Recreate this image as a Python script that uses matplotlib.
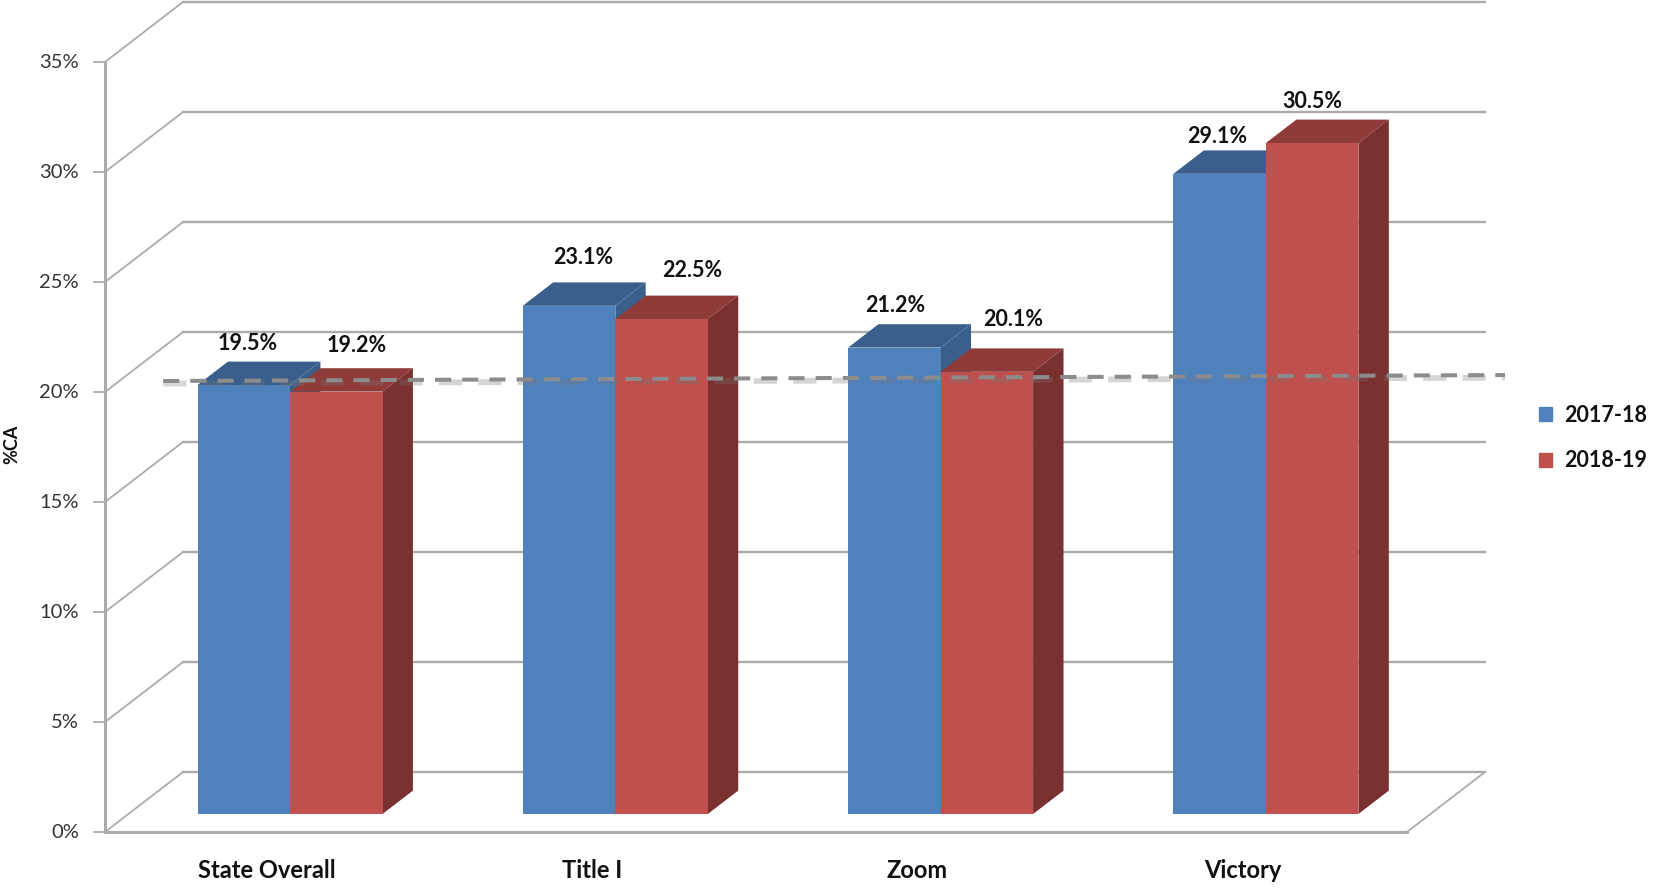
import matplotlib
matplotlib.use("Agg")
from matplotlib import pyplot as plt
import numpy as np

categories = ["State Overall", "Title I", "Zoom", "Victory"]
years = ["2017-18", "2018-19"]
values_2017 = [19.5, 23.1, 21.2, 29.1]
values_2018 = [19.2, 22.5, 20.1, 30.5]
y_ticks = [0, 5, 10, 15, 20, 25, 30, 35]

# hand drawn dashed line in the original, ends
dash_x = [-0.318, 3.807]
dash_y = [20.5, 20.77]

# value labels were moved by hand in the original: (dx, dy) from front top centre
nudge_2017 = [(0.012, 1.9), (0.043, 2.2), (0.003, 1.9), (-0.009, 1.7)]
nudge_2018 = [(0.063, 2.1), (0.095, 2.2), (0.08, 2.4), (0.0, 1.9)]

W, H = 1671, 894
PX_CAT = 325.3   # px per category
PX_PCT = 22.0    # px per percent
X0, Y0 = 266.6, 832.0

# depth of the 3d box in data units
DX = 78 / PX_CAT
DY = 60 / PX_PCT
BAR_D0 = 0.3     # front of the bars, as a fraction of the depth
BAR_D1 = 0.69    # back of the bars
BAR_W = 92.5 / PX_CAT
X_LEFT = (105 - X0) / PX_CAT
X_RIGHT = (1407 - X0) / PX_CAT

BLUE = ["#4F81BD", "#3A5F8C", "#3A5F8C"]
RED = ["#C0504D", "#8F3B39", "#7A302E"]
GRID = "#ABABAB"

plt.rcParams["font.family"] = ["Lato", "DejaVu Sans"]

fig = plt.figure(figsize=(W / 100, H / 100), dpi=100)
ax = fig.add_axes([0, 0, 1, 1])
ax.set_xlim(-X0 / PX_CAT, (W - X0) / PX_CAT)
ax.set_ylim((Y0 - H) / PX_PCT, Y0 / PX_PCT)
ax.axis("off")

# walls
for t in y_ticks:
    ax.plot([X_LEFT, X_LEFT + DX], [t, t + DY], color=GRID, lw=1.3, zorder=1)
    ax.plot([X_LEFT + DX, X_RIGHT + DX], [t + DY, t + DY], color=GRID, lw=1.7, zorder=1)
    ax.plot([X_LEFT - 11 / PX_CAT, X_LEFT], [t, t], color=GRID, lw=1.3, zorder=1)
    ax.text(X_LEFT - 26 / PX_CAT, t, f"{t}%", ha="right", va="center",
            fontsize=14.5, color="#333333")

ax.plot([X_LEFT, X_LEFT], [0, y_ticks[-1]], color=GRID, lw=2.2, zorder=1)
ax.plot([X_LEFT, X_RIGHT], [0, 0], color=GRID, lw=2.2, zorder=1)
ax.plot([X_RIGHT, X_RIGHT + DX], [0, DY], color=GRID, lw=1.3, zorder=1)


def draw_bar(x_left, value, colors, z):
    sx0, sy0 = BAR_D0 * DX, BAR_D0 * DY
    sx1, sy1 = BAR_D1 * DX, BAR_D1 * DY
    left, right = x_left + sx0, x_left + sx0 + BAR_W
    top = value + sy0
    ax.bar(left, value, BAR_W, bottom=sy0, align="edge", color=colors[0], zorder=z + 0.2)
    ax.fill([left, right, x_left + sx1 + BAR_W, x_left + sx1],
            [top, top, value + sy1, value + sy1], color=colors[1], lw=0, zorder=z)
    ax.fill([right, x_left + sx1 + BAR_W, x_left + sx1 + BAR_W, right],
            [sy0, sy1, value + sy1, top], color=colors[2], lw=0, zorder=z + 0.1)


for i in range(len(categories)):
    draw_bar(i - BAR_W, values_2017[i], BLUE, 2)
    draw_bar(i, values_2018[i], RED, 3)

    for v, off, (nx, ny) in [(values_2017[i], -BAR_W / 2, nudge_2017[i]),
                             (values_2018[i], BAR_W / 2, nudge_2018[i])]:
        ax.text(i + off + BAR_D0 * DX + nx, v + BAR_D0 * DY + ny, f"{v:.1f}%",
                ha="center", va="center", fontsize=15.5, fontweight="bold",
                color="#111111", zorder=6)

    ax.text(i, -38 / PX_PCT, categories[i], ha="center", va="center",
            fontsize=17, fontweight="bold", color="#111111")

ax.text(12 / W, 0.0, "", transform=ax.transAxes)
ax.text((12 - X0) / PX_CAT, 17.6, "%CA", rotation=90, ha="center", va="center",
        fontsize=13, fontweight="bold", color="#111111")

# dashed line with its soft shadow
ax.plot(dash_x, np.array(dash_y) - 0.12, color="#777777", alpha=0.3, lw=4.2,
        dashes=(4, 2.75), dash_capstyle="butt", zorder=5)
ax.plot(dash_x, dash_y, color="#8C8C8C", lw=2.9, dashes=(4, 2.75),
        dash_capstyle="butt", zorder=5)

# legend
handles = [plt.Rectangle((0, 0), 1, 1, color=BLUE[0]), plt.Rectangle((0, 0), 1, 1, color=RED[0])]
leg = ax.legend(handles, years, loc="center left", bbox_to_anchor=(1539 / W, 1 - 438 / H),
                frameon=False, fontsize=15.5, handlelength=0.62, handleheight=0.62,
                handletextpad=0.55, labelspacing=1.15, borderpad=0, borderaxespad=0)
for txt in leg.get_texts():
    txt.set_fontweight("bold")
    txt.set_color("#111111")

fig.savefig("out.png", dpi=100)
